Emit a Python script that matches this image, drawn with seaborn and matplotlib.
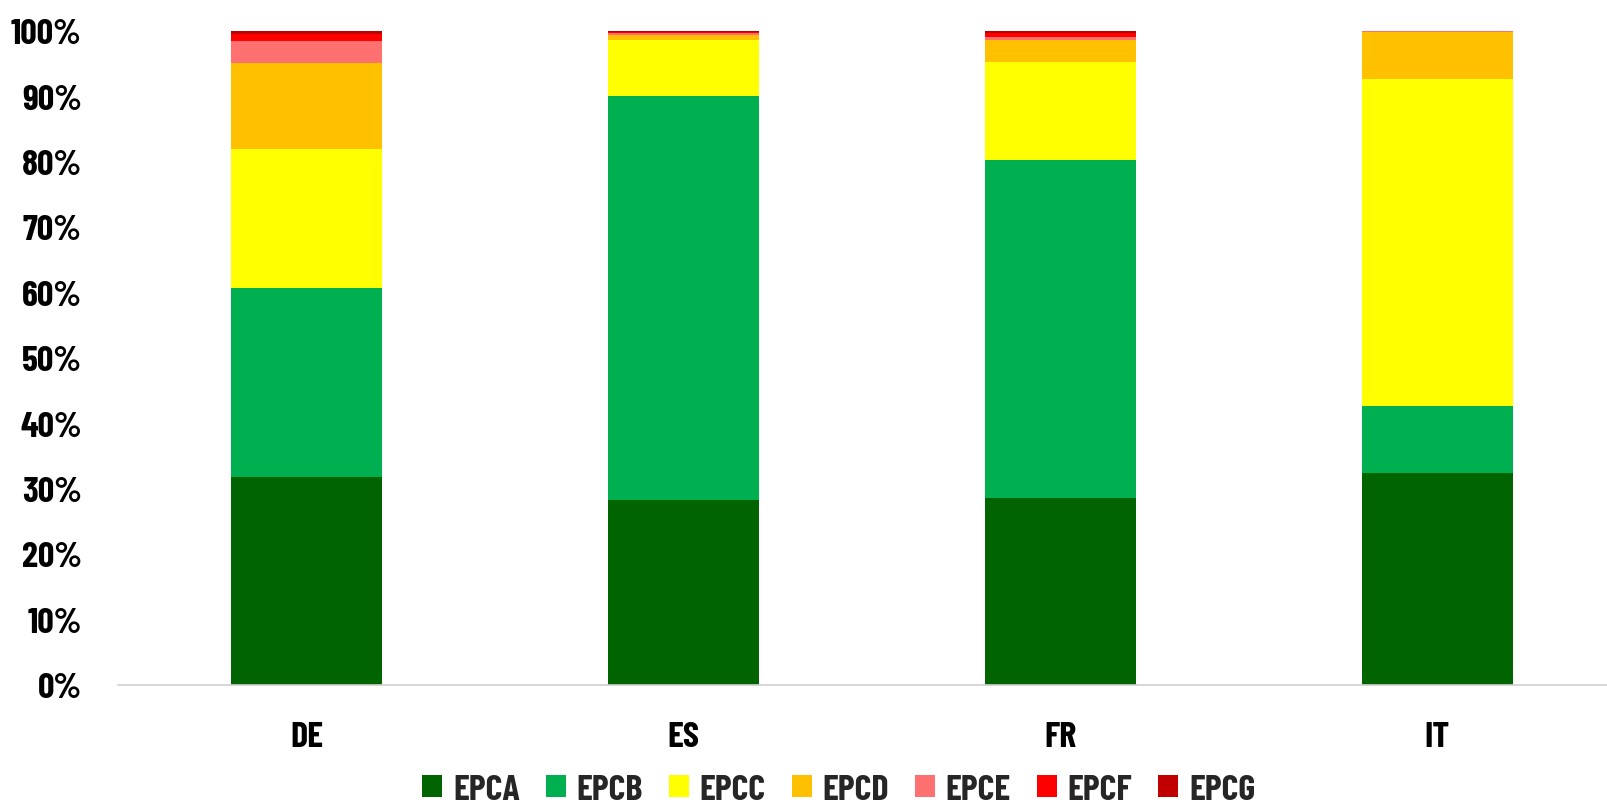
import matplotlib
matplotlib.use("Agg")
import matplotlib.pyplot as plt
import seaborn as sns
import numpy as np
import pandas as pd
from matplotlib.patches import Patch

countries = ["DE", "ES", "FR", "IT"]
epc_a = [31.8, 28.2, 28.5, 32.3]
epc_b = [28.9, 61.9, 51.8, 10.3]
epc_c = [21.3, 8.5, 15.0, 50.0]
epc_d = [13.1, 0.7, 3.3, 7.2]
epc_e = [3.4, 0.3, 0.5, 0.2]
epc_f = [1.0, 0.2, 0.6, 0.0]
epc_g = [0.5, 0.2, 0.3, 0.0]

series_names = ["EPCA", "EPCB", "EPCC", "EPCD", "EPCE", "EPCF", "EPCG"]
series_values = [epc_a, epc_b, epc_c, epc_d, epc_e, epc_f, epc_g]
colors = ["#006400", "#00B050", "#FFFF00", "#FFC000", "#FF7171", "#FF0000", "#C00000"]

sns.set_theme(style="white")
font = ["Barlow Condensed", "DejaVu Sans"]
plt.rcParams["font.family"] = font
plt.rcParams["font.weight"] = "bold"

fig = plt.figure(figsize=(16.07, 8.12), dpi=100)
ax = fig.add_axes([0.0734, 0.1557, 0.9266, 0.8051])

# stacked bars: draw cumulative totals from the top band down
cum = np.cumsum(np.array(series_values), axis=0)
for i in range(len(series_names) - 1, -1, -1):
    df = pd.DataFrame({"country": countries, "value": cum[i]})
    sns.barplot(data=df, x="country", y="value", color=colors[i],
                width=0.4, saturation=1, linewidth=0, ax=ax)

ax.set_ylim(0, 100)
ax.set_xlim(-0.5, 3.45)
ax.set_yticks(np.arange(0, 101, 10))
ax.set_yticklabels([f"{v}%" for v in range(0, 101, 10)])
ax.set_xlabel("")
ax.set_ylabel("")
ax.tick_params(axis="y", length=0, pad=26, labelsize=26)
ax.tick_params(axis="x", length=0, pad=26, labelsize=26)
for lab in ax.get_xticklabels() + ax.get_yticklabels():
    lab.set_fontweight("bold")
    lab.set_color("#000000")

for side in ["top", "right", "left"]:
    ax.spines[side].set_visible(False)
ax.spines["bottom"].set_color("#D0D0D0")
ax.spines["bottom"].set_linewidth(1.2)
ax.grid(False)

handles = [Patch(facecolor=c, edgecolor="none") for c in colors]
fig.legend(handles, series_names, loc="center", bbox_to_anchor=(0.522, 0.026),
           ncol=7, frameon=False, handlelength=0.55, handleheight=0.55,
           handletextpad=0.3, columnspacing=0.72, borderpad=0.1,
           prop={"family": font, "weight": "bold", "size": 26})

fig.savefig("out.png", dpi=100)
